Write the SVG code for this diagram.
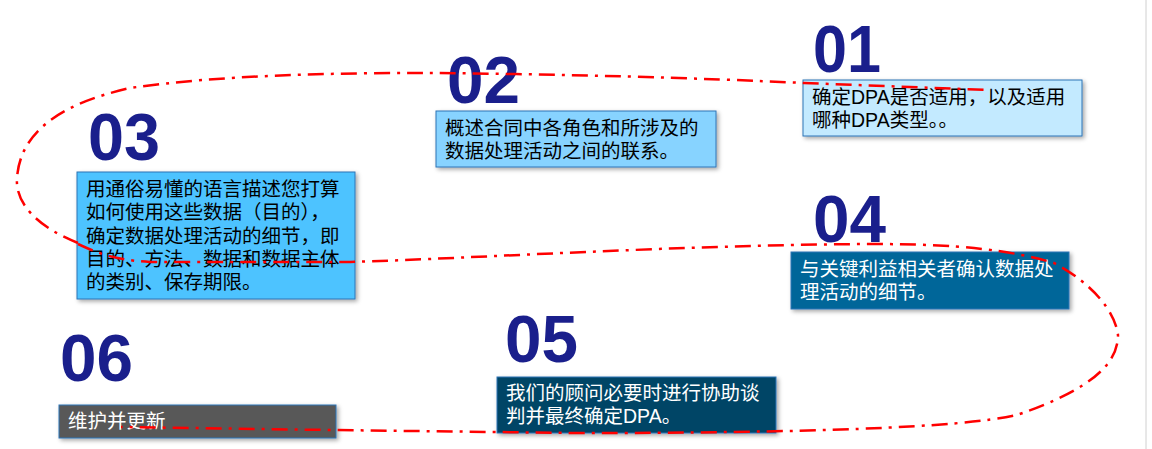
<svg xmlns="http://www.w3.org/2000/svg" width="1152" height="449" viewBox="0 0 1152 449">
<defs>
<filter id="sh" x="-10%" y="-20%" width="130%" height="150%"><feDropShadow dx="2" dy="2" stdDeviation="2" flood-color="#000" flood-opacity="0.35"/></filter>
<style>
.num{font-family:"Liberation Sans",Arial,sans-serif;font-weight:bold;font-size:66px;fill:#1a1f8c}
.t{font-family:"Liberation Sans","Noto Sans CJK SC",sans-serif;font-size:19.5px}
.box{stroke:#2e75b6;stroke-width:1;filter:url(#sh)}
.loop{fill:none;stroke:#ff0000;stroke-width:2.5;stroke-dasharray:16 7 3 7}
</style>
</defs>
<rect width="1152" height="449" fill="#fff"/>
<line x1="1146" y1="0" x2="1146" y2="449" stroke="#d0d0d0" stroke-width="1"/>
<g id="n01"><text class="num" x="813" y="72" textLength="68" lengthAdjust="spacingAndGlyphs">01</text>
<rect class="box" x="803" y="80" width="279" height="56" fill="#c3eaff"/>
<text class="t" x="812" y="104" fill="#000">确定DPA是否适用，以及适用</text><text class="t" x="812" y="127" fill="#000">哪种DPA类型。。</text></g>
<g id="n02"><text class="num" x="447" y="103" textLength="73" lengthAdjust="spacingAndGlyphs">02</text>
<rect class="box" x="436" y="111" width="280" height="56" fill="#87d3ff"/>
<text class="t" x="445" y="135" fill="#000">概述合同中各角色和所涉及的</text><text class="t" x="445" y="158" fill="#000">数据处理活动之间的联系。</text></g>
<g id="n03"><text class="num" x="88" y="160" textLength="72" lengthAdjust="spacingAndGlyphs">03</text>
<rect class="box" x="77" y="172" width="278" height="127" fill="#4dc3ff"/>
<text class="t" fill="#000"><tspan x="86" y="196">用通俗易懂的语言描述您打算</tspan><tspan x="86" y="219">如何使用这些数据（目的），</tspan><tspan x="86" y="243">确定数据处理活动的细节，即</tspan><tspan x="86" y="266">目的、方法、数据和数据主体</tspan><tspan x="86" y="289">的类别、保存期限。</tspan></text></g>
<g id="n04"><text class="num" x="813" y="242" textLength="73" lengthAdjust="spacingAndGlyphs">04</text>
<rect class="box" x="791" y="252" width="278" height="57" fill="#006699"/>
<text class="t" x="800" y="276" fill="#fff">与关键利益相关者确认数据处</text><text class="t" x="800" y="299" fill="#fff">理活动的细节。</text></g>
<g id="n05"><text class="num" x="505" y="362" textLength="73" lengthAdjust="spacingAndGlyphs">05</text>
<rect class="box" x="497" y="377" width="279" height="56" fill="#004466"/>
<text class="t" x="506" y="400" fill="#fff">我们的顾问必要时进行协助谈</text><text class="t" x="506" y="423" fill="#fff">判并最终确定DPA。</text></g>
<g id="n06"><text class="num" x="60" y="381" textLength="73" lengthAdjust="spacingAndGlyphs">06</text>
<rect class="box" x="59" y="405" width="277" height="33" fill="#595959"/>
<text class="t" x="68" y="428" fill="#fff">维护并更新</text></g>
<g id="connectors">
<path class="loop" d="M78,243 C40,228 15,205 17,178 C20,135 55,105 130,88 C220,75 330,73 430,73 C560,74 700,78 804,83 L988,90"/>
<path class="loop" d="M78,244 C100,254 115,260 150,262 L350,262 C480,258 680,245 870,244 C960,244 1010,250 1054,263 C1090,282 1115,310 1118,335 C1118,362 1095,388 1017,415 C960,428 800,433 576,433 L330,430 L121,427"/>
</g>
</svg>
